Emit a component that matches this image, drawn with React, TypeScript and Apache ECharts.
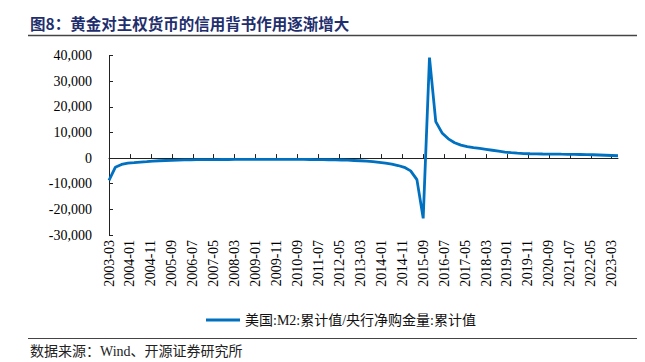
import React, { useEffect, useRef } from "react";
import * as echarts from "echarts";

// Quarterly observations (quarter-end months), 2003-03 … 2023-06
const startYear = 2003;
const startMonth = 3;
const endYear = 2023;
const endMonth = 6;
const quarterlyValues: number[] = [
  -8700, -3600, -2500, -2000, -1800, -1550, -1380, -1200, -1050, -950,
  -860, -790, -730, -680, -640, -610, -590, -570, -560, -550,
  -540, -530, -520, -520, -510, -510, -500, -500, -510, -520,
  -530, -540, -560, -580, -610, -650, -700, -760, -840, -940,
  -1050, -1200, -1400, -1650, -2000, -2400, -2900, -3600, -5000, -8400,
  -23500, 39200, 14200, 9800, 7500, 6000, 5050, 4500, 4050, 3750,
  3400, 3050, 2700, 2350, 2100, 1900, 1750, 1680, 1620, 1580,
  1560, 1540, 1500, 1470, 1430, 1400, 1350, 1300, 1200, 1100,
  1000, 900,
];
const seriesName = "美国:M2:累计值/央行净购金量:累计值";
const titleText = "图8：黄金对主权货币的信用背书作用逐渐增大";
const sourceText = "数据来源：Wind、开源证券研究所";

const months: string[] = [];
{
  let y = startYear;
  let m = startMonth;
  while (y < endYear || (y === endYear && m <= endMonth)) {
    months.push(`${y}-${m < 10 ? "0" + m : m}`);
    m += 1;
    if (m > 12) {
      m = 1;
      y += 1;
    }
  }
}
const monthlyData: (number | null)[] = months.map((_, i) =>
  i % 3 === 0 ? quarterlyValues[i / 3] ?? null : null
);

const serif = "'Liberation Serif', 'Times New Roman', 'Noto Sans CJK SC', serif";

export default function App() {
  const ref = useRef<HTMLDivElement>(null);
  useEffect(() => {
    document.body.style.margin = "0";
    if (!ref.current) return;
    const chart = echarts.init(ref.current, undefined, { renderer: "svg" });
    chart.setOption({
      animation: false,
      backgroundColor: "#ffffff",
      grid: { left: 109, right: 27, top: 55.5, bottom: 127 },
      legend: {
        left: 201,
        top: 308,
        itemWidth: 34,
        itemHeight: 3,
        itemGap: 4,
        textStyle: { fontFamily: serif, fontSize: 14, color: "#111" },
        data: [
          {
            name: seriesName,
            icon: "path://M0,0 L34,0 L34,3 L0,3 Z",
            itemStyle: { color: "#0070C0" },
          },
        ],
      },
      xAxis: [
        {
          type: "category",
          data: months,
          boundaryGap: false,
          position: "bottom",
          axisLine: { show: false, onZero: false },
          axisTick: { show: false },
          axisLabel: {
            interval: 9,
            rotate: 90,
            margin: 5,
            fontFamily: serif,
            fontSize: 14,
            color: "#000",
          },
        },
        {
          type: "category",
          data: months,
          boundaryGap: false,
          position: "bottom",
          axisLine: { show: true, onZero: true, lineStyle: { color: "#222", width: 1 } },
          axisTick: { show: true, inside: true, length: 4, interval: 9, lineStyle: { color: "#222" } },
          axisLabel: { show: false },
        },
      ],
      yAxis: {
        type: "value",
        min: -30000,
        max: 40000,
        interval: 10000,
        axisLine: { show: true, lineStyle: { color: "#222", width: 1 } },
        axisTick: { show: true, inside: true, length: 4, lineStyle: { color: "#222" } },
        splitLine: { show: false },
        axisLabel: {
          margin: 17,
          fontFamily: serif,
          fontSize: 14,
          color: "#000",
          formatter: (v: number) => v.toLocaleString("en-US"),
        },
      },
      series: [
        {
          name: seriesName,
          type: "line",
          xAxisIndex: 0,
          data: monthlyData,
          connectNulls: true,
          symbol: "none",
          lineStyle: { color: "#0070C0", width: 2.8 },
          itemStyle: { color: "#0070C0" },
        },
      ],
      graphic: [
        {
          type: "text",
          left: 30,
          top: 15,
          style: {
            text: titleText,
            fontFamily: "'Noto Sans CJK SC', sans-serif",
            fontWeight: "bold",
            fontSize: 15.5,
            fill: "#1f2f6e",
          },
        },
        {
          type: "line",
          shape: { x1: 28, y1: 35.5, x2: 637, y2: 35.5 },
          style: { stroke: "#444", lineWidth: 1.5 },
        },
        {
          type: "line",
          shape: { x1: 28, y1: 338.5, x2: 637, y2: 338.5 },
          style: { stroke: "#444", lineWidth: 1.2 },
        },
        {
          type: "text",
          left: 30,
          top: 344,
          style: {
            text: sourceText,
            fontFamily: serif,
            fontSize: 14,
            fill: "#222",
          },
        },
      ],
    });
    return () => chart.dispose();
  }, []);
  return <div ref={ref} style={{ width: 645, height: 362 }} />;
}
